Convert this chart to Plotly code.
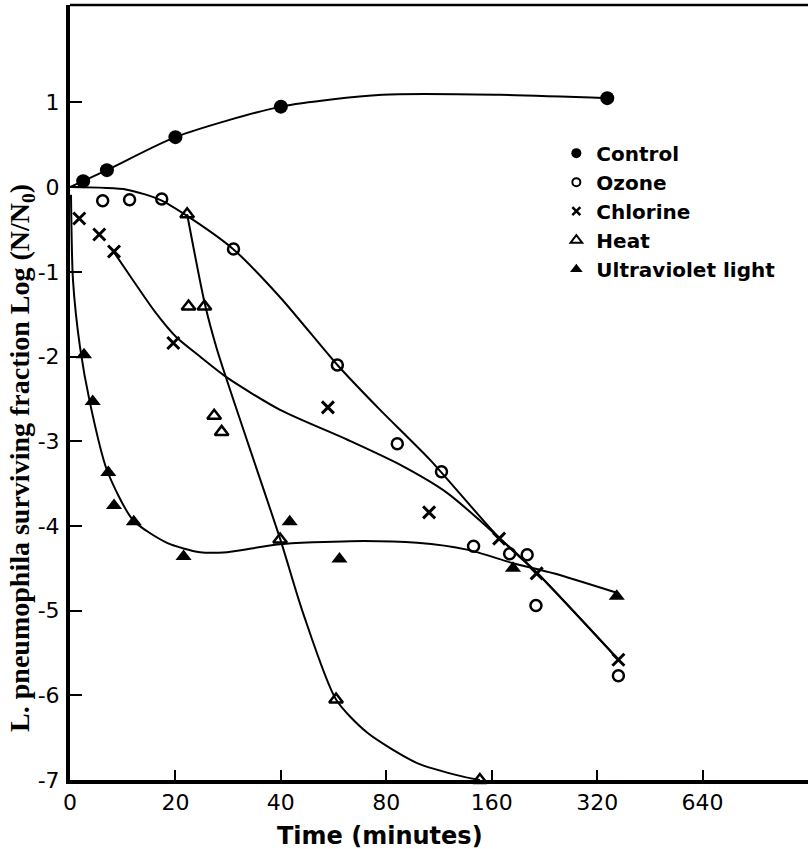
import math
import plotly.graph_objects as go

# ---------------- data (time in minutes, log10 surviving fraction) ----------------
CONTROL_T = [2.5, 7.0, 20, 40, 342]
CONTROL_Y = [0.07, 0.20, 0.59, 0.95, 1.05]
CONTROL_FIT_T = [0, 7.0, 20, 40, 78, 169, 345]
CONTROL_FIT_Y = [0.0, 0.20, 0.59, 0.95, 1.09, 1.09, 1.05]

OZONE_T = [6.2, 11.3, 17.4, 29.3, 58, 86, 115, 142, 180, 202, 214, 368]
OZONE_Y = [-0.16, -0.15, -0.14, -0.73, -2.10, -3.03, -3.36, -4.24, -4.33, -4.34, -4.94, -5.77]
OZONE_FIT_T = [0, 10.8, 17.1, 21.6, 29.2, 39.8, 58, 76.8, 106.7, 167, 216, 368]
OZONE_FIT_Y = [0.0, -0.03, -0.15, -0.34, -0.73, -1.30, -2.10, -2.63, -3.22, -4.13, -4.56, -5.58]

CHLORINE_T = [1.76, 5.56, 8.35, 19.6, 54.5, 106, 168, 215, 368]
CHLORINE_Y = [-0.37, -0.56, -0.76, -1.84, -2.60, -3.84, -4.15, -4.56, -5.58]
CHLORINE_FIT_T = [8.35, 11.95, 16.1, 20.1, 23.5, 28.1, 39.8, 61.8, 85.9, 119.3, 167, 216, 368]
CHLORINE_FIT_Y = [-0.77, -1.10, -1.47, -1.77, -2.00, -2.25, -2.63, -2.98, -3.26, -3.61, -4.13, -4.56, -5.58]

HEAT_T = [21.6, 21.8, 24.2, 25.8, 27.1, 39.8, 57.5, 148]
HEAT_Y = [-0.32, -1.41, -1.41, -2.70, -2.89, -4.16, -6.05, -7.0]
HEAT_FIT_T = [21.6, 24.3, 26.3, 32.2, 39.8, 46.3, 57.5, 70.5, 98, 132.6, 148]
HEAT_FIT_Y = [-0.32, -1.39, -1.92, -3.02, -4.15, -5.03, -6.05, -6.44, -6.80, -6.96, -7.0]

UV_T = [2.66, 4.31, 7.27, 8.35, 12.1, 21.1, 42.4, 58.8, 184, 364]
UV_Y = [-1.98, -2.53, -3.37, -3.76, -3.95, -4.36, -3.95, -4.39, -4.50, -4.83]
UV_FIT_T = [0.19, 0.57, 1.90, 3.8, 7.0, 11.95, 18.4, 23.5, 28.1, 39.0, 63.1, 98, 136, 184, 240, 364]
UV_FIT_Y = [-0.09, -1.10, -1.89, -2.55, -3.34, -3.93, -4.20, -4.31, -4.31, -4.22, -4.18, -4.20, -4.28, -4.44, -4.56, -4.79]

X_TICKS = [0, 20, 40, 80, 160, 320, 640]
Y_TICKS = [1, 0, -1, -2, -3, -4, -5, -6, -7]

SERIES_NAMES = ["Control", "Ozone", "Chlorine", "Heat", "Ultraviolet light"]


# time axis of the figure: linear 0-20 min, then doubling intervals
def tpos(t):
    return t / 20.0 if t <= 20 else 1.0 + math.log2(t / 20.0)


def tp(ts):
    return [tpos(t) for t in ts]


fig = go.Figure()

fits = [
    (CONTROL_FIT_T, CONTROL_FIT_Y),
    (OZONE_FIT_T, OZONE_FIT_Y),
    (CHLORINE_FIT_T, CHLORINE_FIT_Y),
    (HEAT_FIT_T, HEAT_FIT_Y),
    (UV_FIT_T, UV_FIT_Y),
]
for ft, fy in fits:
    fig.add_trace(go.Scatter(
        x=tp(ft), y=fy, mode="lines",
        line=dict(color="black", width=2, shape="spline", smoothing=0.7),
        showlegend=False, hoverinfo="skip", cliponaxis=False,
    ))

styles = [
    dict(symbol="circle", size=14, color="black", line=dict(width=0)),
    dict(symbol="circle-open", size=11, color="black", line=dict(width=2.5, color="black")),
    dict(symbol="x-thin-open", size=12, color="black", line=dict(width=3, color="black")),
    dict(symbol="triangle-up-open", size=12, color="black", line=dict(width=2.5, color="black")),
    dict(symbol="triangle-up", size=14, color="black", line=dict(width=0)),
]
legend_styles = [
    dict(symbol="circle", size=10, color="black", line=dict(width=0)),
    dict(symbol="circle-open", size=8, color="black", line=dict(width=2, color="black")),
    dict(symbol="x-thin-open", size=8, color="black", line=dict(width=2.5, color="black")),
    dict(symbol="triangle-up-open", size=10, color="black", line=dict(width=2, color="black")),
    dict(symbol="triangle-up", size=11, color="black", line=dict(width=0)),
]
points = [
    (CONTROL_T, CONTROL_Y),
    (OZONE_T, OZONE_Y),
    (CHLORINE_T, CHLORINE_Y),
    (HEAT_T, HEAT_Y),
    (UV_T, UV_Y),
]
for (pt, py), st, name in zip(points, styles, SERIES_NAMES):
    fig.add_trace(go.Scatter(
        x=tp(pt), y=py, mode="markers", marker=st, name=name,
        showlegend=False, cliponaxis=False,
    ))
for st, name in zip(legend_styles, SERIES_NAMES):
    fig.add_trace(go.Scatter(
        x=[None], y=[None], mode="markers", marker=st, name=name, showlegend=True,
    ))

font_sans = "DejaVu Sans"

fig.update_layout(
    width=808, height=849,
    margin=dict(l=70, r=0, t=5, b=69),
    paper_bgcolor="white", plot_bgcolor="white",
    font=dict(family=font_sans, color="black", size=20),
    legend=dict(
        x=0.659, y=0.834, xanchor="left", yanchor="top",
        font=dict(family=font_sans, size=20, color="black", weight="bold"),
        bgcolor="rgba(0,0,0,0)", tracegroupgap=0, itemwidth=30,
    ),
    xaxis=dict(
        range=[0, 7.0], tickvals=tp(X_TICKS), ticktext=[str(v) for v in X_TICKS],
        showgrid=False, zeroline=False, showline=True, linecolor="black", linewidth=3.5,
        ticks="inside", ticklen=10, tickwidth=2, tickcolor="black",
        tickfont=dict(family=font_sans, size=22, color="black"),
    ),
    yaxis=dict(
        range=[-7, 2.15], tickvals=Y_TICKS, ticktext=[str(v) for v in Y_TICKS],
        showgrid=False, zeroline=False, showline=True, linecolor="black", linewidth=4,
        ticks="inside", ticklen=12, tickwidth=2, tickcolor="black",
        tickfont=dict(family=font_sans, size=22, color="black"),
        ticklabelstandoff=2,
    ),
    shapes=[dict(type="line", xref="paper", yref="paper", x0=0, x1=1, y0=1, y1=1,
                 line=dict(color="black", width=2.5))],
    annotations=[
        dict(text="Time (minutes)", xref="paper", yref="paper", x=0.42, y=-0.072,
             xanchor="center", yanchor="middle", showarrow=False,
             font=dict(family=font_sans, size=24, color="black", weight="bold")),
        dict(text="L. pneumophila surviving fraction Log (N/N<sub>0</sub>)",
             xref="paper", yref="paper", x=-0.066, y=0.416, textangle=-90,
             xanchor="center", yanchor="middle", showarrow=False,
             font=dict(family="Liberation Serif", size=28, color="black", weight="bold")),
    ],
)

fig.write_html("out.html")
